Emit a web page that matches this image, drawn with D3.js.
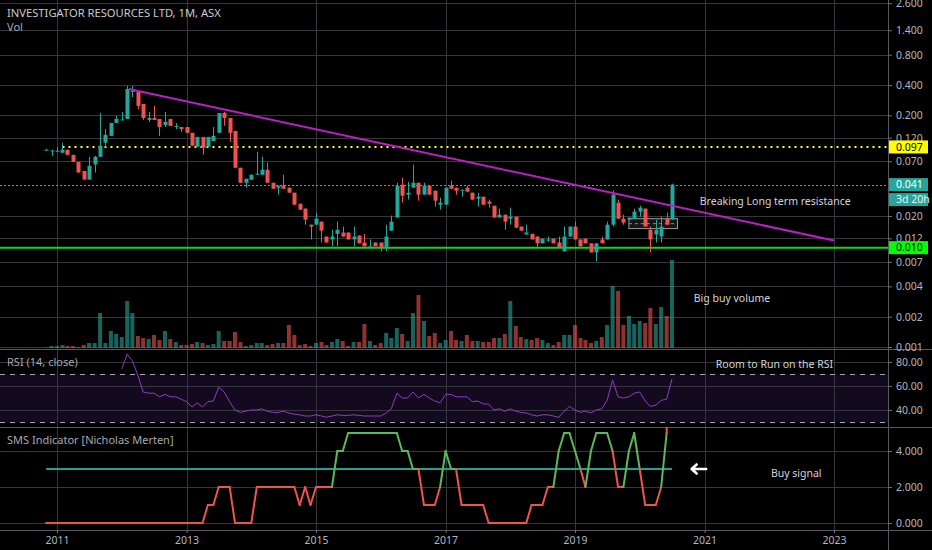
<!DOCTYPE html>
<html>
<head>
<meta charset="utf-8">
<script src="https://cdn.jsdelivr.net/npm/d3@7"></script>
<style>
  html, body { margin: 0; padding: 0; background: #000; overflow: hidden; }
  svg { display: block; font-family: "Noto Sans", "Open Sans", sans-serif; }
</style>
</head>
<body>
<div id="chart"></div>
<script>
// Monthly bars, Nov 2010 .. Jul 2020 (ASX: IVR)
var firstMonth = new Date(2010, 10, 1);
var lastMonth = new Date(2020, 6, 1);

var openPrice = [0.090,0.0889,0.087,0.085,0.091,0.081,0.069,0.056,0.046,0.065,0.0775,0.107,0.125,0.168,0.180,0.184,0.345,0.341,0.259,0.180,
  0.188,0.184,0.160,0.184,0.155,0.153,0.153,0.134,0.0974,0.122,0.0974,0.111,0.134,0.211,0.188,0.140,0.0603,0.0428,0.0458,0.0514,
  0.0514,0.0576,0.0428,0.0382,0.040,0.0382,0.0341,0.0265,0.0237,0.0164,0.0164,0.0176,0.0125,0.0117,0.0133,0.0137,0.0137,0.0117,0.0128,0.0109,
  0.0097,0.0109,0.0109,0.0097,0.0143,0.0193,0.0409,0.0326,0.0382,0.0428,0.0326,0.040,0.0357,0.0259,0.0259,0.040,0.0382,0.036,0.0382,0.0341,
  0.0297,0.0311,0.0278,0.0253,0.0193,0.0206,0.0188,0.0197,0.0157,0.0131,0.0133,0.0125,0.0107,0.0114,0.0119,0.0109,0.0089,0.0125,0.0157,0.0117,
  0.0119,0.0107,0.0087,0.0117,0.0117,0.0164,0.0271,0.0188,0.0184,0.0188,0.0221,0.0237,0.0146,0.0131,0.0125,0.0188,0.0184];
var highPrice = [0.093,0.091,0.097,0.107,0.091,0.081,0.069,0.056,0.0775,0.079,0.211,0.146,0.168,0.197,0.216,0.391,0.391,0.341,0.259,0.216,
  0.248,0.184,0.216,0.184,0.168,0.153,0.153,0.134,0.122,0.122,0.122,0.153,0.211,0.216,0.188,0.140,0.0603,0.0469,0.0514,0.0869,
  0.0775,0.0676,0.0428,0.040,0.0514,0.0382,0.0341,0.0265,0.0237,0.0164,0.0216,0.0176,0.0125,0.0146,0.0176,0.0157,0.0137,0.0157,0.0128,0.0133,
  0.0117,0.0109,0.0109,0.0164,0.0202,0.0428,0.048,0.0438,0.0646,0.0428,0.0428,0.040,0.0357,0.0304,0.0382,0.0448,0.0382,0.0365,0.040,0.0341,
  0.0341,0.0311,0.0291,0.0253,0.0237,0.0206,0.0242,0.0197,0.0157,0.0164,0.0133,0.0125,0.0119,0.0125,0.0119,0.0125,0.0157,0.0157,0.0176,0.0117,
  0.0119,0.0107,0.0107,0.0125,0.0176,0.0357,0.0291,0.0206,0.0193,0.0237,0.0253,0.0237,0.0157,0.0184,0.0197,0.0216,0.0418];
var lowPrice = [0.089,0.079,0.086,0.085,0.081,0.069,0.054,0.046,0.046,0.054,0.0775,0.097,0.125,0.168,0.178,0.184,0.304,0.231,0.180,0.172,
  0.180,0.125,0.153,0.157,0.146,0.137,0.134,0.0997,0.0974,0.0812,0.0974,0.111,0.134,0.157,0.109,0.0603,0.0428,0.0382,0.0458,0.0514,
  0.0514,0.0428,0.0373,0.0326,0.0373,0.0341,0.0259,0.0231,0.0164,0.0117,0.0164,0.0109,0.0109,0.0100,0.0100,0.0125,0.0117,0.0100,0.0107,0.0100,
  0.0097,0.0100,0.0089,0.0089,0.0143,0.0193,0.0271,0.0291,0.0382,0.0284,0.0326,0.0326,0.0248,0.0231,0.0259,0.0373,0.0326,0.0311,0.0349,0.0291,
  0.0248,0.0259,0.0242,0.0193,0.0193,0.0146,0.0164,0.0153,0.0143,0.0131,0.0117,0.0097,0.0107,0.0111,0.0107,0.0097,0.0089,0.0125,0.0117,0.0100,
  0.0107,0.0087,0.0071,0.0107,0.0117,0.0157,0.0188,0.0164,0.0184,0.0188,0.0197,0.0157,0.0087,0.0109,0.0109,0.0164,0.0184];
var closePrice = [0.091,0.0895,0.089,0.091,0.081,0.069,0.054,0.046,0.063,0.0775,0.0997,0.128,0.168,0.184,0.182,0.365,0.350,0.248,0.188,0.188,
  0.180,0.153,0.172,0.157,0.157,0.146,0.134,0.0997,0.122,0.0952,0.122,0.125,0.211,0.188,0.134,0.0603,0.0428,0.0469,0.0514,0.0526,
  0.0576,0.0428,0.0373,0.040,0.0373,0.0341,0.0259,0.0231,0.0184,0.0157,0.0188,0.0143,0.0109,0.0125,0.0146,0.0125,0.0117,0.0125,0.0107,0.0100,
  0.0100,0.0100,0.0097,0.0125,0.0176,0.040,0.0318,0.0341,0.0428,0.0326,0.040,0.0326,0.0284,0.0271,0.0382,0.0373,0.0357,0.0365,0.0349,0.0291,
  0.0311,0.0259,0.0265,0.0193,0.0206,0.0176,0.0197,0.0153,0.0143,0.0137,0.0117,0.0107,0.0119,0.0117,0.0107,0.0097,0.0125,0.0157,0.0117,0.0100,
  0.0107,0.0087,0.0107,0.0107,0.0164,0.0326,0.0188,0.0172,0.0193,0.0221,0.0242,0.0157,0.0117,0.0146,0.0157,0.0164,0.041];
// volume, millions of shares
var volume = [0.5,2,2,3,2,2,1,3,5,5,35,5,17,14,11,47,35,12,10,9,
  13,8,17,9,6,3,3,4,6,5,3,4,17,7,7,16,6,2,3,5,
  5,3,4,5,5,23,13,3,4,2,5,6,3,6,9,7,2,6,6,24,
  7,3,5,15,10,20,14,7,35,53,27,12,15,5,8,17,8,7,13,7,
  7,6,6,10,10,14,47,22,11,9,8,10,8,5,3,6,13,13,23,10,
  8,5,7,11,23,62,57,23,32,24,27,25,40,24,41,32,88];

// RSI(14, close), first value on the 15th bar (Jan 2012)
var rsiStart = 14;
var rsiValues = [74,86.7,81,69,55,54,54,51,53,51,51,49,47,42.5,46,42.5,47,47.5,59,55,
  47,40,38,39,40,40,41,39,38,38,39,37.5,36.5,36,35,35,36,35,34,35,
  36,35.5,35.5,36,35.5,35,35,35,35,37.5,41,54,50,50,55,50,53,50,47.5,46,
  53,53,51,51,51,47,47.5,45,45,40,41,39,41,39,38,37.5,36,35,36,36,
  35,34,39,43,40,38,39,37.5,40,41,48,65,51,50,51,54,55,47.5,43,44,
  48,49,66];

// SMS Indicator [Nicholas Merten]
var smsValues = [0,0,0,0,0,0,0,0,0,0,0,0,0,0,0,0,0,0,0,0,
  0,0,0,0,0,0,0,0,0,0,1,1,2,2,2,0,0,0,0,2,
  2,2,2,2,2,2,2,1,2,1,2,2,2,2,4,4,5,5,5,5,
  5,5,5,5,5,5,4,4,3,3,1,1,1,2,4,3,3,1,1,1,
  1,1,0,0,0,0,0,0,0,0,1,1,1,2,2,4,5,5,4,3,
  2,4,5,5,5,4,2,2,4,5,3,1,1,1,2,5];
var smsSignal = 3;

// axis ticks
var priceTicks = [2.6, 1.4, 0.8, 0.4, 0.2, 0.12, 0.07, 0.02, 0.012, 0.007, 0.004, 0.002, 0.001];
var rsiTicks = [80, 60, 40];
var rsiBand = [70, 30];
var smsTicks = [4, 2, 0];
var yearTicks = [2011, 2013, 2015, 2017, 2019, 2021, 2023];

// drawn levels and trendline
var yellowLevel = { price: 0.097, from: new Date(2011, 1, 1) };
var supportLevel = 0.0097;
var trendLine = [{ date: new Date(2012, 1, 10), price: 0.365 }, { date: new Date(2023, 0, 1), price: 0.0114 }];
var rangeBox = { from: new Date(2019, 10, 1), to: new Date(2020, 7, 1), top: 0.0188, bottom: 0.0150 };
var notes = [
  { pane: "price", date: new Date(2020, 11, 5), value: 0.0278, text: "Breaking Long term resistance" },
  { pane: "price", date: new Date(2020, 10, 1), value: 0.00307, text: "Big buy volume" },
  { pane: "rsi", date: new Date(2021, 2, 5), value: 78.3, text: "Room to Run on the RSI" },
  { pane: "sms", date: new Date(2022, 0, 10), value: 2.78, text: "Buy signal" }
];

// ---------------------------------------------------------------
var width = 932, height = 550;
var plotRight = 888;
var mainBottom = 349, rsiTop = 349, rsiBottom = 427, smsTop = 427, smsBottom = 530;

var bars = d3.timeMonth.range(firstMonth, d3.timeMonth.offset(lastMonth, 1)).map(function (d, i) {
  return { date: d, o: openPrice[i], h: highPrice[i], l: lowPrice[i], c: closePrice[i], v: volume[i], sms: smsValues[i] };
});
var lastBar = bars[bars.length - 1];

var x = d3.scaleTime().domain([new Date(2011, 0, 1), new Date(2023, 0, 1)]).range([57, 834]);
var yPrice = d3.scaleLog().domain([0.4, 0.001]).range([85, 347]);
var yVol = d3.scaleLinear().domain([0, d3.max(volume)]).range([348, 260]);
var yRsi = d3.scaleLinear().domain([80, 40]).range([362, 410]);
var ySms = d3.scaleLinear().domain([4, 0]).range([451, 523]);

var up = "#26a69a", down = "#ef5350";
var gridColor = "#35373b", sepColor = "#55585e", textColor = "#b2b5be";

var svg = d3.select("#chart").append("svg")
    .attr("width", width)
    .attr("height", height);

svg.append("rect").attr("width", width).attr("height", height).attr("fill", "#000");

var defs = svg.append("defs");
defs.append("clipPath").attr("id", "clipMain").append("rect").attr("x", 0).attr("y", 0).attr("width", plotRight).attr("height", mainBottom);
defs.append("clipPath").attr("id", "clipRsi").append("rect").attr("x", 0).attr("y", rsiTop).attr("width", plotRight).attr("height", rsiBottom - rsiTop);
defs.append("clipPath").attr("id", "clipSms").append("rect").attr("x", 0).attr("y", smsTop).attr("width", plotRight).attr("height", smsBottom - smsTop);

//RSI background band (drawn first, under the grid)
svg.append("rect")
    .attr("x", 0).attr("width", plotRight)
    .attr("y", yRsi(rsiBand[0])).attr("height", yRsi(rsiBand[1]) - yRsi(rsiBand[0]))
    .attr("fill", "rgba(126,60,194,0.16)");

//grid
var grid = svg.append("g").attr("stroke", gridColor).attr("stroke-width", 1);
grid.selectAll(".vgrid").data(yearTicks).enter().append("line")
    .attr("x1", function (d) { return Math.round(x(new Date(d, 0, 1))) + 0.5; })
    .attr("x2", function (d) { return Math.round(x(new Date(d, 0, 1))) + 0.5; })
    .attr("y1", 0).attr("y2", smsBottom);
function hgrid(ticks, scale, cls) {
  grid.selectAll("." + cls).data(ticks).enter().append("line")
      .attr("x1", 0).attr("x2", plotRight)
      .attr("y1", function (d) { return Math.round(scale(d)) + 0.5; })
      .attr("y2", function (d) { return Math.round(scale(d)) + 0.5; });
}
hgrid(priceTicks, yPrice, "pgrid");
hgrid(rsiTicks, yRsi, "rgrid");
hgrid(smsTicks, ySms, "sgrid");

//pane separators
var seps = svg.append("g").attr("stroke", sepColor).attr("stroke-width", 1);
[mainBottom, rsiBottom, smsBottom].forEach(function (y) {
  seps.append("line").attr("x1", 0).attr("x2", width).attr("y1", y + 0.5).attr("y2", y + 0.5);
});
seps.append("line").attr("x1", plotRight + 0.5).attr("x2", plotRight + 0.5).attr("y1", 0).attr("y2", height);

// ---------------- main pane
var main = svg.append("g").attr("clip-path", "url(#clipMain)");

//volume
main.append("g").selectAll(".vol")
    .data(bars).enter().append("rect")
    .attr("x", function (d) { return x(d.date) - 2; })
    .attr("width", 4)
    .attr("y", function (d) { return yVol(d.v); })
    .attr("height", function (d) { return yVol(0) - yVol(d.v); })
    .attr("fill", function (d) { return d.c >= d.o ? "rgba(38,166,154,0.6)" : "rgba(239,83,80,0.6)"; });

//price lines
main.append("line")
    .attr("x1", x(yellowLevel.from)).attr("x2", plotRight)
    .attr("y1", yPrice(yellowLevel.price)).attr("y2", yPrice(yellowLevel.price))
    .attr("stroke", "#ffff00").attr("stroke-width", 2).attr("stroke-dasharray", "2,4");
main.append("line")
    .attr("x1", 0).attr("x2", plotRight)
    .attr("y1", Math.round(yPrice(lastBar.c)) + 0.5).attr("y2", Math.round(yPrice(lastBar.c)) + 0.5)
    .attr("stroke", "#3fb5aa").attr("stroke-width", 1).attr("stroke-dasharray", "2,2");
main.append("line")
    .attr("x1", 0).attr("x2", plotRight)
    .attr("y1", yPrice(supportLevel)).attr("y2", yPrice(supportLevel))
    .attr("stroke", "#14d414").attr("stroke-width", 2);

//range box
main.append("rect")
    .attr("x", x(rangeBox.from)).attr("width", x(rangeBox.to) - x(rangeBox.from))
    .attr("y", yPrice(rangeBox.top)).attr("height", yPrice(rangeBox.bottom) - yPrice(rangeBox.top))
    .attr("fill", "rgba(180,180,180,0.12)").attr("stroke", "#9a9a9a").attr("stroke-width", 1);
main.append("line")
    .attr("x1", x(rangeBox.from)).attr("x2", x(rangeBox.to))
    .attr("y1", yPrice(Math.sqrt(rangeBox.top * rangeBox.bottom))).attr("y2", yPrice(Math.sqrt(rangeBox.top * rangeBox.bottom)))
    .attr("stroke", "#888").attr("stroke-dasharray", "3,3");

//candles
var candle = main.append("g").selectAll(".candle")
    .data(bars).enter().append("g");
candle.append("line")
    .attr("x1", function (d) { return Math.round(x(d.date)) + 0.5; })
    .attr("x2", function (d) { return Math.round(x(d.date)) + 0.5; })
    .attr("y1", function (d) { return yPrice(d.h); })
    .attr("y2", function (d) { return yPrice(d.l); })
    .attr("stroke", function (d) { return d.c >= d.o ? up : down; });
candle.append("rect")
    .attr("x", function (d) { return Math.round(x(d.date)) - 1.5; })
    .attr("width", 4)
    .attr("y", function (d) { return yPrice(Math.max(d.o, d.c)); })
    .attr("height", function (d) { return Math.max(1, yPrice(Math.min(d.o, d.c)) - yPrice(Math.max(d.o, d.c))); })
    .attr("fill", function (d) { return d.c >= d.o ? up : down; });

//trendline
main.append("line")
    .attr("x1", x(trendLine[0].date)).attr("y1", yPrice(trendLine[0].price))
    .attr("x2", x(trendLine[1].date)).attr("y2", yPrice(trendLine[1].price))
    .attr("stroke", "#bb1fc6").attr("stroke-width", 2);

// ---------------- RSI pane
var rsiG = svg.append("g").attr("clip-path", "url(#clipRsi)");
rsiG.selectAll(".band").data(rsiBand).enter().append("line")
    .attr("x1", 0).attr("x2", plotRight)
    .attr("y1", function (d) { return Math.round(yRsi(d)) + 0.5; })
    .attr("y2", function (d) { return Math.round(yRsi(d)) + 0.5; })
    .attr("stroke", "#a3a6ad").attr("stroke-dasharray", "5,5");
rsiG.append("path")
    .datum(rsiValues)
    .attr("fill", "none")
    .attr("stroke", "#8e3cc0")
    .attr("stroke-width", 1)
    .attr("d", d3.line()
      .x(function (d, i) { return x(bars[rsiStart + i].date); })
      .y(function (d) { return yRsi(d); }));

// ---------------- SMS pane
var smsG = svg.append("g").attr("clip-path", "url(#clipSms)");
smsG.append("line")
    .attr("x1", x(bars[0].date)).attr("x2", x(lastBar.date))
    .attr("y1", ySms(smsSignal)).attr("y2", ySms(smsSignal))
    .attr("stroke", "#1fa196").attr("stroke-width", 2);
smsG.append("g").selectAll(".seg")
    .data(d3.pairs(bars)).enter().append("line")
    .attr("x1", function (d) { return x(d[0].date); })
    .attr("y1", function (d) { return ySms(d[0].sms); })
    .attr("x2", function (d) { return x(d[1].date); })
    .attr("y2", function (d) { return ySms(d[1].sms); })
    .attr("stroke", function (d) { return d[1].sms >= smsSignal ? "#5cb85c" : "#ef5350"; })
    .attr("stroke-width", 2)
    .attr("stroke-linecap", "round");

// ---------------- axes
function styleAxis(g) {
  g.select(".domain").remove();
  g.selectAll(".tick line").attr("stroke", "#6a6d73");
  g.selectAll(".tick text").attr("fill", textColor).style("font-size", "10.5px").style("font-family", "\"Noto Sans\", sans-serif");
}
svg.append("g").attr("transform", "translate(" + plotRight + ",0)")
    .call(d3.axisRight(yPrice).tickValues(priceTicks).tickFormat(d3.format(".3f")).tickSize(4).tickPadding(4))
    .call(styleAxis);
svg.append("g").attr("transform", "translate(" + plotRight + ",0)")
    .call(d3.axisRight(yRsi).tickValues(rsiTicks).tickFormat(d3.format(".2f")).tickSize(4).tickPadding(4))
    .call(styleAxis);
svg.append("g").attr("transform", "translate(" + plotRight + ",0)")
    .call(d3.axisRight(ySms).tickValues(smsTicks).tickFormat(d3.format(".3f")).tickSize(4).tickPadding(4))
    .call(styleAxis);
svg.append("g").attr("transform", "translate(0," + smsBottom + ")")
    .call(d3.axisBottom(x).tickValues(yearTicks.map(function (y) { return new Date(y, 0, 1); }))
      .tickFormat(d3.timeFormat("%Y")).tickSize(3).tickPadding(4))
    .call(styleAxis);

//price labels on the axis
function priceTag(price, bg, fg, text, dy) {
  var y = yPrice(price) + (dy || 0);
  var g = svg.append("g");
  g.append("rect").attr("x", plotRight + 1).attr("y", y - 6.5).attr("width", 39).attr("height", 13).attr("fill", bg);
  g.append("text").attr("x", plotRight + 8).attr("y", y).attr("dy", "0.35em")
      .attr("fill", fg).style("font-size", "10.5px").text(text);
}
priceTag(yellowLevel.price, "#ffff00", "#000", d3.format(".3f")(yellowLevel.price));
priceTag(lastBar.c, up, "#fff", d3.format(".3f")(lastBar.c));
priceTag(lastBar.c, up, "#e8f5f3", "3d 20h", 15);
priceTag(supportLevel, "#00ff00", "#000", d3.format(".3f")(supportLevel));

// ---------------- titles and notes
var titles = svg.append("g").style("font-size", "11px");
titles.append("text").attr("x", 7).attr("y", 17).attr("fill", "#c8cbd1").style("font-size", "11.2px").text("INVESTIGATOR RESOURCES LTD, 1M, ASX");
titles.append("text").attr("x", 7).attr("y", 31).attr("fill", "#a6a9b0").text("Vol");
titles.append("text").attr("x", 7).attr("y", yRsi(80) + 4).attr("fill", "#a6a9b0").text("RSI (14, close)");
titles.append("text").attr("x", 7).attr("y", ySms(4.4)).attr("fill", "#a6a9b0").text("SMS Indicator [Nicholas Merten]");

var paneScale = { price: yPrice, rsi: yRsi, sms: ySms };
svg.append("g").selectAll(".note")
    .data(notes).enter().append("text")
    .attr("x", function (d) { return x(d.date); })
    .attr("y", function (d) { return paneScale[d.pane](d.value); })
    .attr("dy", "0.35em")
    .attr("fill", "#d1d4dc")
    .style("font-size", "10.5px")
    .text(function (d) { return d.text; });

//buy signal arrow
var ax1 = x(new Date(2020, 9, 20)), ax2 = x(new Date(2021, 0, 10)), ay = ySms(smsSignal);
svg.append("path")
    .attr("d", "M" + ax2 + "," + ay + "H" + (ax1 + 1) + "M" + (ax1 + 5) + "," + (ay - 4.5) + "L" + ax1 + "," + ay + "L" + (ax1 + 5) + "," + (ay + 4.5))
    .attr("fill", "none").attr("stroke", "#fff").attr("stroke-width", 2.6)
    .attr("stroke-linecap", "round").attr("stroke-linejoin", "round");
</script>
</body>
</html>
